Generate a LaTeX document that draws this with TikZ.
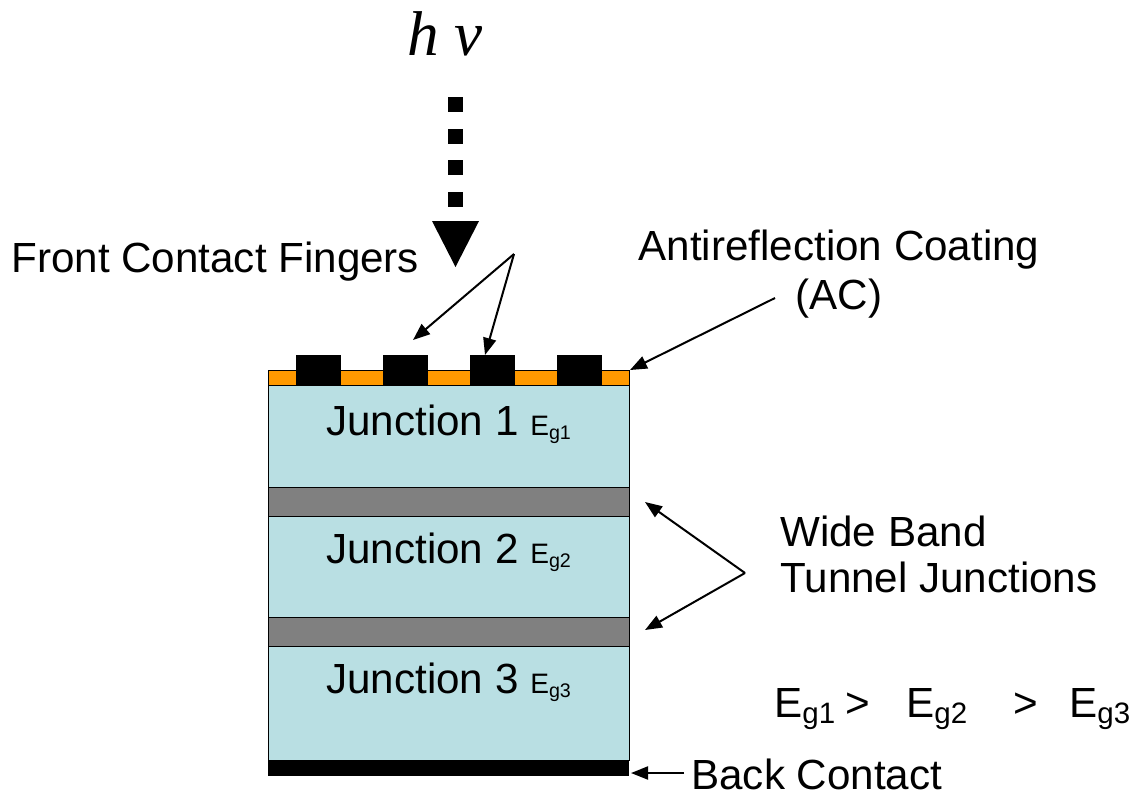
\documentclass[tikz,border=0pt]{standalone}
\usepackage{fontspec}
\setmainfont{Liberation Sans}
\newfontfamily\timesfont{Liberation Serif}
\usetikzlibrary{arrows.meta}

% colours of the layers
\definecolor{r185g223g227}{RGB}{185,223,227}
\definecolor{r255g153b0}{RGB}{255,153,0}
\definecolor{r128g128b128}{RGB}{128,128,128}

\newcommand{\Eg}[1]{E\textsubscript{g#1}}

\tikzset{
  layer/.style={draw=black, line width=0.02cm},
  pointer/.style={line width=0.04cm, -{Triangle[length=0.34cm,width=0.26cm]}},
  bigtext/.style={inner sep=0pt, font=\fontsize{24}{27}\selectfont},
}

\begin{document}
\begin{tikzpicture}[x=0.02cm, y=-0.02cm]
  \useasboundingbox (0,0) rectangle (1132,802);

  % Photon hv
  \node (hv) [anchor=base, inner sep=0pt, font=\timesfont\itshape\fontsize{36}{40}\selectfont] at (445,55) {h ν};

  % Drawing dotted light beam
  \foreach \y in {97,128.5,160,192}
    \fill (448,\y) rectangle +(15,15);
  \fill (432,221) -- (479,221) -- (455.5,267) -- cycle;

  % Back contact
  \fill[black] (268,760) rectangle (629,776);

  % Junctions
  \filldraw[fill=r185g223g227, layer] (268,385) rectangle (629,487);
  \filldraw[fill=r185g223g227, layer] (268,516) rectangle (629,617);
  \filldraw[fill=r185g223g227, layer] (268,646) rectangle (629,760);

  % Tunnel junctions
  \filldraw[fill=r128g128b128, layer] (268,487) rectangle (629,516);
  \filldraw[fill=r128g128b128, layer] (268,617) rectangle (629,646);

  % Antireflection coating
  \filldraw[fill=r255g153b0, layer] (268,370) rectangle (629,385);

  % Front contact fingers
  \foreach \x in {296,383,470,557}
    \fill (\x,355) rectangle +(45,30);

  % Junction labels
  \node (j1) [bigtext, anchor=base west] at (326,435) {Junction 1 {\fontsize{16}{18}\selectfont\Eg{1}}};
  \node (j2) [bigtext, anchor=base west] at (326,563) {Junction 2 {\fontsize{16}{18}\selectfont\Eg{2}}};
  \node (j3) [bigtext, anchor=base west] at (326,693) {Junction 3 {\fontsize{16}{18}\selectfont\Eg{3}}};

  % Captions
  \node (fcf) [bigtext, anchor=base west] at (11,272) {Front Contact Fingers};
  \node (arc) [bigtext, anchor=base, align=center, font=\fontsize{24}{27.5}\selectfont] at (839,309) {Antireflection Coating\\(AC)};
  \node (wbtj) [bigtext, anchor=base west, align=left, font=\fontsize{24}{25.7}\selectfont] at (780,592) {Wide Band\\Tunnel Junctions};
  \node (bc) [bigtext, anchor=base west] at (691,789) {Back Contact};

  % Band gap order
  \node (eg1) [bigtext, anchor=base west] at (774,717) {\Eg{1}};
  \node (gt1) [bigtext, anchor=base west] at (845,717) {>};
  \node (eg2) [bigtext, anchor=base west] at (906,717) {\Eg{2}};
  \node (gt2) [bigtext, anchor=base west] at (1013,717) {>};
  \node (eg3) [bigtext, anchor=base west] at (1069,717) {\Eg{3}};

  % Pointer ends
  \coordinate (fcfTail) at (514,254);
  \coordinate (finger2) at (413,340);
  \coordinate (finger3) at (485,355);
  \coordinate (arcTail) at (775,298);
  \coordinate (arcTip) at (630,370);
  \coordinate (tjTail) at (745,573);
  \coordinate (tj1) at (645,502);
  \coordinate (tj2) at (645,630);
  \coordinate (bcTail) at (684,773);
  \coordinate (bcTip) at (631,773);

  % Drawing pointers
  \draw[pointer] (fcfTail) -- (finger2);
  \draw[pointer] (fcfTail) -- (finger3);
  \draw[pointer] (arcTail) -- (arcTip);
  \draw[pointer] (tjTail) -- (tj1);
  \draw[pointer] (tjTail) -- (tj2);
  \draw[pointer] (bcTail) -- (bcTip);
\end{tikzpicture}
\end{document}
